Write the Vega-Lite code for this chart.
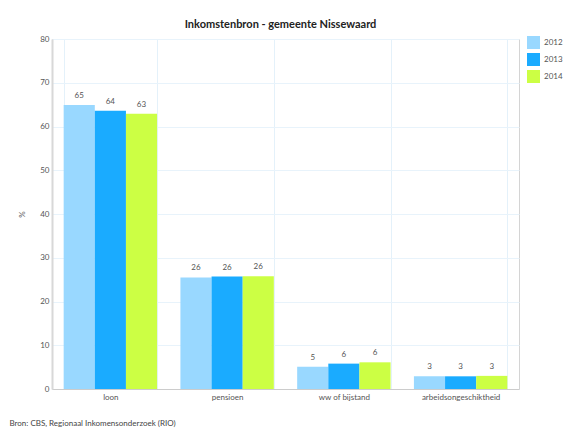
{
  "$schema": "https://vega.github.io/schema/vega-lite/v6.json",
  "autosize": {"type": "none"},
  "width": 467,
  "height": 350,
  "padding": {"left": 52, "top": 39, "right": 59, "bottom": 43},
  "background": "white",
  "title": {
    "text": "Inkomstenbron - gemeente Nissewaard",
    "font": "Lato, sans-serif",
    "fontSize": 11,
    "fontWeight": "bold",
    "color": "#222222",
    "anchor": "middle",
    "dx": -5,
    "offset": 5
  },
  "data": {
    "values": [
      {"bron": "loon", "jaar": "2012", "pct": 64.9},
      {"bron": "loon", "jaar": "2013", "pct": 63.6},
      {"bron": "loon", "jaar": "2014", "pct": 62.9},
      {"bron": "pensioen", "jaar": "2012", "pct": 25.5},
      {"bron": "pensioen", "jaar": "2013", "pct": 25.7},
      {"bron": "pensioen", "jaar": "2014", "pct": 25.8},
      {"bron": "ww of bijstand", "jaar": "2012", "pct": 5.1},
      {"bron": "ww of bijstand", "jaar": "2013", "pct": 5.8},
      {"bron": "ww of bijstand", "jaar": "2014", "pct": 6.1},
      {"bron": "arbeidsongeschiktheid", "jaar": "2012", "pct": 2.9},
      {"bron": "arbeidsongeschiktheid", "jaar": "2013", "pct": 2.9},
      {"bron": "arbeidsongeschiktheid", "jaar": "2014", "pct": 3.0}
    ]
  },
  "encoding": {
    "x": {
      "field": "bron",
      "type": "nominal",
      "sort": ["loon", "pensioen", "ww of bijstand", "arbeidsongeschiktheid"],
      "scale": {"paddingInner": 0.2, "paddingOuter": 0.1},
      "axis": {
        "title": "Bron: CBS, Regionaal Inkomensonderzoek (RIO)",
        "titleX": -43,
        "titleY": 34,
        "titleAnchor": "start",
        "titleAlign": "left",
        "titleBaseline": "middle",
        "titleFont": "Lato, sans-serif",
        "titleFontSize": 8,
        "titleFontWeight": "normal",
        "titleColor": "#444444",
        "labelAngle": 0,
        "labelFont": "Lato, sans-serif",
        "labelFontSize": 8,
        "labelColor": "#555555",
        "labelPadding": 4,
        "ticks": false,
        "tickBand": "extent",
        "grid": true,
        "gridColor": "#e4f1fa",
        "domainColor": "#cccccc"
      }
    },
    "xOffset": {"field": "jaar", "type": "nominal"},
    "y": {
      "field": "pct",
      "type": "quantitative",
      "scale": {"domain": [0, 80], "nice": false},
      "axis": {
        "title": "%",
        "titleX": -30,
        "titleY": 175,
        "titleAngle": -90,
        "titleAlign": "center",
        "titleBaseline": "middle",
        "titleFont": "Lato, sans-serif",
        "titleFontSize": 8,
        "titleFontWeight": "normal",
        "titleColor": "#555555",
        "values": [0, 10, 20, 30, 40, 50, 60, 70, 80],
        "labelFont": "Lato, sans-serif",
        "labelFontSize": 8,
        "labelColor": "#555555",
        "labelPadding": 3,
        "ticks": false,
        "grid": true,
        "gridColor": "#e8f3fb",
        "domainColor": "#d8d8d8",
        "domainWidth": 2
      }
    }
  },
  "layer": [
    {
      "mark": {"type": "bar"},
      "encoding": {
        "color": {
          "field": "jaar",
          "type": "nominal",
          "scale": {"domain": ["2012", "2013", "2014"], "range": ["#99d8ff", "#1aabff", "#ccff44"]},
          "legend": {
            "title": null,
            "orient": "none",
            "legendX": 475,
            "legendY": -3,
            "symbolType": "square",
            "symbolSize": 169,
            "symbolStrokeWidth": 0,
            "symbolOpacity": 1,
            "rowPadding": 4,
            "labelOffset": 4,
            "labelFont": "Lato, sans-serif",
            "labelFontSize": 8,
            "labelColor": "#555555"
          }
        }
      }
    },
    {
      "mark": {
        "type": "text",
        "baseline": "bottom",
        "dy": -5,
        "font": "Lato, sans-serif",
        "fontSize": 8,
        "color": "#555555"
      },
      "encoding": {
        "text": {"field": "pct", "type": "quantitative", "format": ".0f"}
      }
    }
  ],
  "config": {
    "view": {"stroke": "#d4d4d4", "strokeWidth": 1}
  }
}
